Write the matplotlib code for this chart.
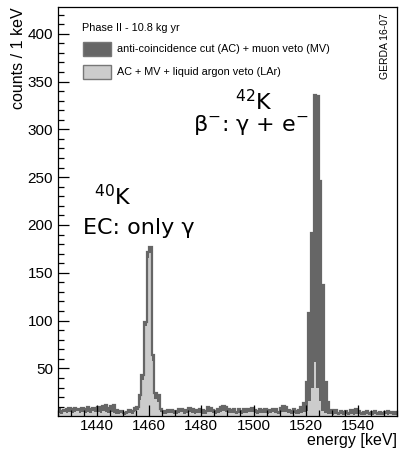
import numpy as np
import matplotlib
matplotlib.use("Agg")
import matplotlib.pyplot as plt
from matplotlib.patches import Rectangle

# bin lower edges, 1 keV bins
energy = np.arange(1425, 1555)

# anti-coincidence cut (AC) + muon veto (MV)
counts_ac_mv = [
    7, 5, 6, 8, 9, 8, 9, 8, 8, 9,
    8, 10, 7, 9, 9, 10, 8, 11, 12, 9,
    11, 12, 6, 4, 5, 3, 4, 6, 5, 9,
    10, 22, 43, 99, 172, 177, 64, 24, 22, 7,
    5, 4, 6, 6, 4, 5, 7, 8, 6, 5,
    9, 8, 5, 6, 7, 6, 5, 10, 9, 6,
    5, 7, 10, 11, 10, 8, 6, 7, 4, 8,
    5, 7, 6, 8, 9, 6, 5, 8, 6, 7,
    5, 6, 8, 7, 4, 9, 11, 10, 6, 5,
    7, 5, 6, 10, 14, 36, 108, 192, 336, 335,
    246, 137, 36, 15, 6, 4, 6, 3, 5, 4,
    5, 3, 6, 4, 7, 5, 3, 4, 5, 3,
    4, 5, 3, 4, 3, 4, 5, 4, 3, 4,
]

# AC + MV + liquid argon veto (LAr)
counts_lar = [
    3, 2, 4, 3, 4, 3, 4, 5, 3, 4,
    3, 4, 3, 5, 4, 4, 3, 5, 4, 3,
    4, 3, 2, 2, 3, 1, 2, 3, 2, 5,
    6, 17, 38, 94, 165, 171, 58, 18, 15, 4,
    2, 2, 3, 3, 2, 2, 3, 4, 2, 3,
    4, 3, 2, 3, 3, 2, 2, 4, 4, 3,
    2, 3, 4, 5, 4, 3, 3, 3, 2, 3,
    2, 3, 3, 4, 4, 3, 2, 3, 3, 3,
    2, 3, 4, 3, 2, 4, 4, 4, 3, 2,
    3, 2, 2, 3, 4, 5, 16, 30, 57, 30,
    16, 5, 3, 2, 2, 1, 2, 1, 2, 1,
    2, 1, 2, 1, 2, 2, 1, 1, 2, 1,
    1, 2, 1, 1, 1, 2, 1, 2, 1, 1,
]

labels = ["anti-coincidence cut (AC) + muon veto (MV)",
          "AC + MV + liquid argon veto (LAr)"]
header = "Phase II - 10.8 kg yr"

dark = "#666666"
light = "#cccccc"
edges = np.append(energy, energy[-1] + 1)

plt.rcParams['font.family'] = ['Liberation Sans', 'DejaVu Sans']

fig = plt.figure(figsize=(3.99, 4.54), dpi=100)
ax = fig.add_axes([0.145, 0.0833, 0.85, 0.9013])

ax.stairs(counts_ac_mv, edges, fill=True, color=dark, zorder=1)
ax.stairs(counts_lar, edges, fill=True, color=light, zorder=1.2)
ax.stairs(counts_ac_mv, edges, color=dark, lw=1.6, baseline=None, zorder=1.5)

ax.set_xlim(1425, 1555)
ax.set_ylim(0, 428)
ax.set_xticks(range(1440, 1541, 20))
ax.set_xticks(range(1425, 1556, 5), minor=True)
ax.set_yticks(range(50, 401, 50))
ax.set_yticks(range(10, 421, 10), minor=True)
ax.tick_params(which='both', direction='in', top=False, right=False, labelsize=11, width=0.9)
ax.tick_params(which='major', length=8)
ax.tick_params(which='minor', length=4)
ax.tick_params(axis='x', pad=2)
for s in ax.spines.values():
    s.set_linewidth(0.9)

ax.set_ylabel("counts / 1 keV", fontsize=11.5, loc='top', labelpad=1)
ax.set_xlabel("energy [keV]", fontsize=11.5, loc='right', labelpad=0)

# legend drawn by hand, ROOT style
tr = ax.transAxes
ax.text(0.071, 0.949, header, transform=tr, fontsize=7.8, va='center', ha='left')
ax.add_patch(Rectangle((0.074, 0.880), 0.082, 0.035, transform=tr, facecolor=dark,
                       edgecolor='#777777', lw=1))
ax.text(0.174, 0.897, labels[0], transform=tr, fontsize=7.8, va='center', ha='left')
ax.add_patch(Rectangle((0.074, 0.824), 0.082, 0.035, transform=tr, facecolor=light,
                       edgecolor='#777777', lw=1))
ax.text(0.174, 0.841, labels[1], transform=tr, fontsize=7.8, va='center', ha='left')

ax.text(0.965, 0.985, "GERDA 16-07", transform=tr, fontsize=7.5, rotation=90,
        va='top', ha='center')

ax.text(1446, 221, r"$^{40}$K", fontsize=16, ha='center', va='baseline', family='DejaVu Sans')
ax.text(1456, 191, "EC: only γ", fontsize=16, ha='center', va='baseline', family='DejaVu Sans')
ax.text(1500, 320, r"$^{42}$K", fontsize=16, ha='center', va='baseline', family='DejaVu Sans')
ax.text(1499, 298, "β$^{-}$: γ + e$^{-}$", fontsize=16, ha='center', va='baseline',
        family='DejaVu Sans')

fig.savefig("out.png", dpi=100)
